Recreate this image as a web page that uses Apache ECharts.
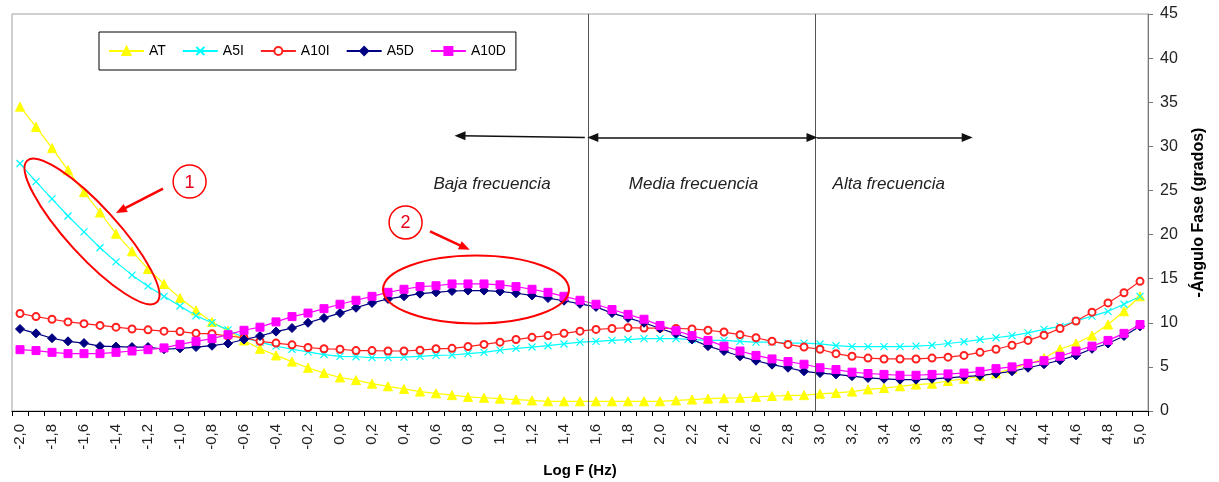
<!DOCTYPE html>
<html><head><meta charset="utf-8">
<script src="https://cdn.jsdelivr.net/npm/echarts@6/dist/echarts.min.js"></script>
<style>html,body{margin:0;padding:0;background:#fff}#c{width:1219px;height:482px}</style>
</head><body><div id="c"></div>
<script>
const categories = ['-2,0','-1,9','-1,8','-1,7','-1,6','-1,5','-1,4','-1,3','-1,2','-1,1',
 '-1,0','-0,9','-0,8','-0,7','-0,6','-0,5','-0,4','-0,3','-0,2','-0,1',
 '0,0','0,1','0,2','0,3','0,4','0,5','0,6','0,7','0,8','0,9',
 '1,0','1,1','1,2','1,3','1,4','1,5','1,6','1,7','1,8','1,9',
 '2,0','2,1','2,2','2,3','2,4','2,5','2,6','2,7','2,8','2,9',
 '3,0','3,1','3,2','3,3','3,4','3,5','3,6','3,7','3,8','3,9',
 '4,0','4,1','4,2','4,3','4,4','4,5','4,6','4,7','4,8','4,9','5,0'];

const AT = [34.5,32.2,29.8,27.3,24.8,22.5,20.1,18.1,16.1,14.4,
 12.8,11.4,10.1,9.1,8.0,7.05,6.3,5.6,4.9,4.3,
 3.8,3.5,3.1,2.8,2.5,2.2,2.0,1.8,1.6,1.5,
 1.4,1.3,1.2,1.1,1.1,1.1,1.1,1.1,1.1,1.1,
 1.1,1.2,1.3,1.4,1.45,1.5,1.6,1.7,1.75,1.8,
 1.95,2.05,2.2,2.45,2.6,2.8,3.0,3.1,3.4,3.65,
 3.95,4.25,4.8,5.3,6.0,7.0,7.65,8.55,9.8,11.3,13.0];

const A5I = [28.05,26.0,24.05,22.1,20.3,18.5,16.9,15.4,14.15,13.0,
 11.9,10.8,10.0,9.2,8.3,7.8,7.35,7.0,6.7,6.4,
 6.2,6.15,6.05,6.05,6.1,6.2,6.3,6.35,6.5,6.65,
 6.9,7.1,7.25,7.4,7.6,7.8,7.9,8.0,8.1,8.2,
 8.2,8.2,8.1,8.0,8.0,7.9,7.8,7.8,7.7,7.7,
 7.6,7.4,7.3,7.3,7.3,7.3,7.35,7.45,7.65,7.85,
 8.1,8.3,8.55,8.85,9.25,9.6,10.2,10.75,11.3,12.1,13.0];

const A10I = [11.05,10.7,10.4,10.1,9.9,9.7,9.5,9.3,9.2,9.05,
 9.0,8.8,8.75,8.5,8.3,7.9,7.7,7.5,7.2,7.05,
 7.0,6.85,6.85,6.8,6.8,6.9,7.05,7.1,7.3,7.55,
 7.8,8.1,8.35,8.55,8.8,9.05,9.25,9.35,9.45,9.4,
 9.4,9.35,9.3,9.15,8.95,8.65,8.3,7.9,7.55,7.25,
 7.0,6.5,6.2,6.0,5.9,5.9,5.9,6.0,6.1,6.3,
 6.65,7.0,7.45,8.0,8.6,9.35,10.2,11.2,12.25,13.4,14.7];

const A5D = [9.3,8.8,8.25,7.9,7.7,7.35,7.3,7.25,7.25,7.0,
 7.1,7.25,7.4,7.65,8.1,8.5,9.0,9.4,10.0,10.55,
 11.1,11.7,12.25,12.7,13.0,13.3,13.45,13.6,13.65,13.65,
 13.55,13.35,13.1,12.8,12.5,12.15,11.8,11.1,10.55,10.0,
 9.35,8.75,8.1,7.35,6.8,6.2,5.7,5.25,4.9,4.5,
 4.3,4.15,3.95,3.75,3.65,3.55,3.55,3.65,3.75,3.9,
 4.0,4.25,4.5,4.9,5.3,5.75,6.3,7.05,7.65,8.5,9.6];

const A10D = [6.95,6.85,6.65,6.5,6.5,6.5,6.65,6.8,6.95,7.15,
 7.55,7.9,8.2,8.65,9.15,9.5,10.1,10.7,11.1,11.6,
 12.1,12.55,13.0,13.45,13.8,14.1,14.2,14.4,14.4,14.4,
 14.3,14.1,13.8,13.45,13.0,12.55,12.1,11.5,10.95,10.4,
 9.7,9.1,8.55,8.0,7.35,6.8,6.3,5.9,5.6,5.3,
 4.9,4.7,4.4,4.25,4.15,4.05,4.05,4.15,4.2,4.3,
 4.5,4.8,5.0,5.4,5.7,6.2,6.8,7.35,8.0,8.8,9.8];

const seriesNames = ['AT','A5I','A10I','A5D','A10D'];
const yTicks = [0,5,10,15,20,25,30,35,40,45];

// annotation positions in data units of the (hidden) continuous Log F axis and the angle axis
const dividers = [1.55, 2.97];
const regionLabels = [['Baja frecuencia',0.95],['Media frecuencia',2.21],['Alta frecuencia',3.43]];
const ANN = [
  {kind:'ellipse', x:-1.55, y:20.35, rx:96, ry:25, rot:-0.83},
  {kind:'ellipse', x:0.85, y:13.77, rx:93, ry:34, rot:0},
  {kind:'num', x:-0.94, y:26.0, t:'1'},
  {kind:'num', x:0.41, y:21.37, t:'2'},
  {kind:'text', x:regionLabels[0][1], y:25.7, t:regionLabels[0][0]},
  {kind:'text', x:regionLabels[1][1], y:25.7, t:regionLabels[1][0]},
  {kind:'text', x:regionLabels[2][1], y:25.7, t:regionLabels[2][0]}
];

const FONT = 'Liberation Sans, Arial, sans-serif';
const chart = echarts.init(document.getElementById('c'));

function mkSeries(name, data, color, symbol, size, extra) {
  return Object.assign({
    name, type:'line', data, xAxisIndex:0, yAxisIndex:0,
    symbol, symbolSize:size, showSymbol:true,
    lineStyle:{color, width:1.2},
    itemStyle:{color, borderColor:color, borderWidth:1},
    emphasis:{disabled:true}, animation:false, z:3
  }, extra || {});
}

const blackArrow = {lineStyle:{color:'#111', width:1.5, type:'solid'}};
const redArrow = {lineStyle:{color:'#f00', width:2.5, type:'solid'}};

const option = {
  animation:false,
  textStyle:{fontFamily:FONT},
  grid:{left:12, right:71, top:14, bottom:71, containLabel:false, outerBoundsMode:'none',
    show:true, borderColor:'#a0a0a0', borderWidth:1, backgroundColor:'#fff'},
  legend:{
    data:seriesNames, left:99, top:32, orient:'horizontal',
    itemWidth:35, itemHeight:10, itemGap:16,
    borderColor:'#000', borderWidth:1, padding:[12,10,12,9],
    textStyle:{fontSize:14, color:'#000', fontFamily:FONT}
  },
  xAxis:[{
    type:'category', data:categories, boundaryGap:true,
    name:'Log F (Hz)', nameLocation:'middle', nameGap:52,
    nameTextStyle:{fontSize:15, fontWeight:'bold', color:'#000', fontFamily:FONT},
    axisLine:{show:true, onZero:false, lineStyle:{color:'#000', width:1}},
    axisTick:{show:true, interval:0, alignWithLabel:false, inside:false, length:5, lineStyle:{color:'#000'}},
    axisLabel:{interval:1, rotate:90, margin:13, fontSize:15, color:'#222', fontFamily:FONT},
    splitLine:{show:false}
  },{
    type:'value', min:-2.05, max:5.05, show:false,
    axisLine:{show:false, onZero:false}
  }],
  yAxis:[{
    type:'value', position:'right', min:0, max:45, interval:5,
    name:'-Ángulo Fase (grados)', nameLocation:'middle', nameGap:43, nameRotate:90,
    nameTextStyle:{fontSize:16, fontWeight:'bold', color:'#000', fontFamily:FONT},
    axisLine:{show:true, onZero:false, lineStyle:{color:'#777', width:1}},
    axisTick:{show:true, inside:false, length:5, lineStyle:{color:'#777'}},
    axisLabel:{margin:12, fontSize:16, color:'#222', fontFamily:FONT,
      formatter:function(v){return yTicks.indexOf(v)>=0 ? String(v) : '';}},
    splitLine:{show:false}
  }],
  series:[
    mkSeries('AT', AT, '#FFFF00', 'triangle', 9),
    mkSeries('A5I', A5I, '#00FFFF', 'path://M0,0L10,10M10,0L0,10', 7,
      {itemStyle:{color:'#00FFFF', borderColor:'#00FFFF', borderWidth:1.2}}),
    mkSeries('A10I', A10I, '#FF2020', 'emptyCircle', 7,
      {itemStyle:{color:'#FF2020', borderColor:'#FF2020', borderWidth:1}}),
    mkSeries('A5D', A5D, '#000080', 'diamond', 9),
    mkSeries('A10D', A10D, '#FF00FF', 'rect', 8),
    {
      name:'lines', type:'line', xAxisIndex:1, yAxisIndex:0, data:[], z:2,
      markLine:{
        silent:true, animation:false, label:{show:false},
        emphasis:{disabled:true},
        symbolSize:[9,11],
        data:[
          [{coord:[dividers[0],0], symbol:'none', lineStyle:{color:'#555', width:1, type:'solid'}},{coord:[dividers[0],45], symbol:'none'}],
          [{coord:[dividers[1],0], symbol:'none', lineStyle:{color:'#555', width:1, type:'solid'}},{coord:[dividers[1],45], symbol:'none'}],
          [Object.assign({coord:[1.53,31.0], symbol:'none'}, blackArrow),{coord:[0.75,31.2], symbol:'triangle'}],
          [Object.assign({coord:[1.58,31.0], symbol:'triangle'}, blackArrow),{coord:[2.95,31.0], symbol:'triangle'}],
          [Object.assign({coord:[2.98,31.0], symbol:'none'}, blackArrow),{coord:[3.92,31.0], symbol:'triangle'}],
          [Object.assign({coord:[-1.106,25.2], symbol:'none'}, redArrow),{coord:[-1.37,22.73], symbol:'triangle'}],
          [Object.assign({coord:[0.5625,20.35], symbol:'none'}, redArrow),{coord:[0.78,18.53], symbol:'triangle'}]
        ]
      }
    },
    {
      name:'annotations', type:'custom', xAxisIndex:1, yAxisIndex:0, z:10, silent:true,
      data: ANN.map(a => [a.x, a.y]),
      renderItem:function(params, api){
        const a = ANN[params.dataIndex];
        const p = api.coord([api.value(0), api.value(1)]);
        if (a.kind === 'ellipse') {
          return {type:'ellipse', x:p[0], y:p[1], rotation:a.rot,
            shape:{cx:0, cy:0, rx:a.rx, ry:a.ry},
            style:{fill:'none', stroke:'#f00', lineWidth:2}};
        }
        if (a.kind === 'num') {
          return {type:'group', children:[
            {type:'circle', shape:{cx:p[0], cy:p[1], r:16.5}, style:{fill:'#fff', stroke:'#f00', lineWidth:1.5}},
            {type:'text', x:p[0], y:p[1]+1, style:{text:a.t, font:'18px '+FONT, fill:'#e8001c', align:'center', verticalAlign:'middle', textAlign:'center', textVerticalAlign:'middle'}}
          ]};
        }
        return {type:'text', x:p[0], y:p[1], style:{text:a.t, font:'italic 17px '+FONT, fill:'#222', align:'center', verticalAlign:'middle', textAlign:'center', textVerticalAlign:'middle'}};
      }
    }
  ]
};
chart.setOption(option);
</script></body></html>
